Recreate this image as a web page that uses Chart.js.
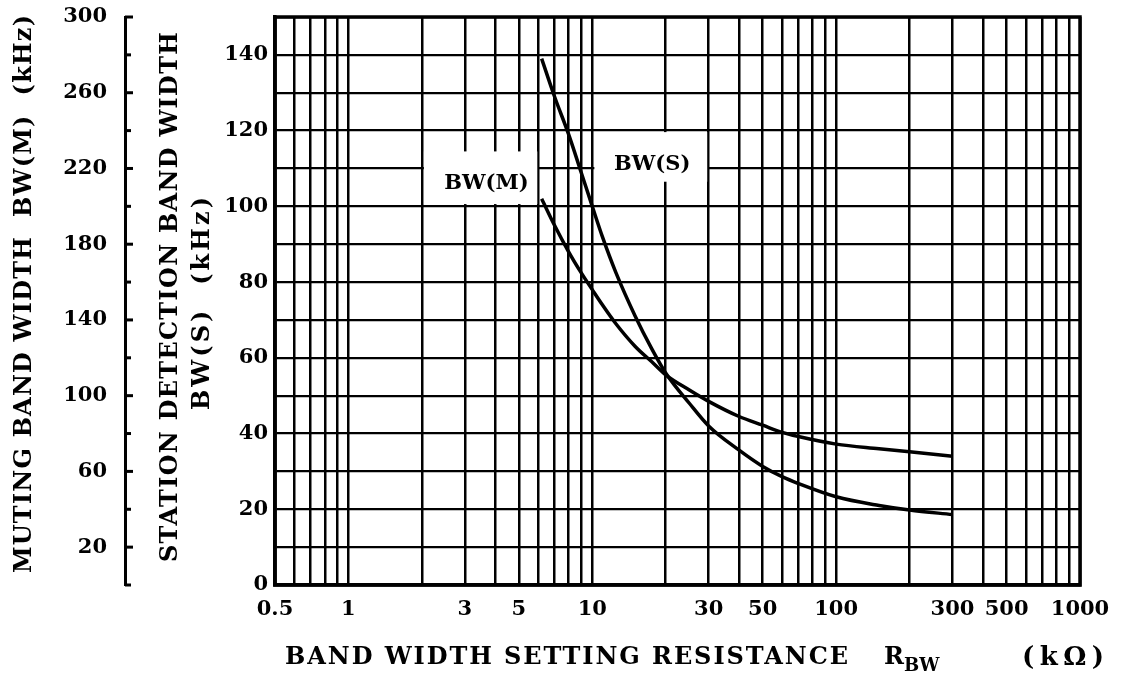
<!DOCTYPE html>
<html>
<head>
<meta charset="utf-8">
<script src="https://cdn.jsdelivr.net/npm/chart.js@4.4.1/dist/chart.umd.min.js"></script>
<style>
  html, body { margin: 0; padding: 0; background: #fff; }
  #wrap { width: 1124px; height: 681px; }
</style>
</head>
<body>
<div id="wrap"><canvas id="c" width="1124" height="681"></canvas></div>
<script>
// band width setting resistance R_BW (kOhm)
const rBW = [6.2, 7, 8, 9, 10, 11, 12.5, 15, 17.5, 20, 25, 30, 40, 50, 60, 70, 100, 150, 200, 300];
// station detection band width BW(S) (kHz), inner axis
const bwS = [139, 129, 119, 109, 100, 92, 82.5, 71, 62.5, 56, 48, 42, 35.6, 31.3, 28.6, 26.8, 23.3, 21, 19.8, 18.6];
// muting band width BW(M) (kHz), outer axis
const bwM = [204, 190, 176, 165, 156, 148, 138, 126, 118, 111, 103, 97, 89, 84.4, 80.6, 78.4, 74.4, 72, 70.4, 68];

const xGrid = [0.5, 0.6, 0.7, 0.8, 0.9, 1, 2, 3, 4, 5, 6, 7, 8, 9, 10, 20, 30, 40, 50, 60, 70, 80, 90,
               100, 200, 300, 400, 500, 600, 700, 800, 900, 1000];
const xLabels = [0.5, 1, 3, 5, 10, 30, 50, 100, 300, 500, 1000];

const FONT = "'DejaVu Serif', serif";

// curve name tags with the grid blanked behind them (in data units)
const tags = [
  { text: 'BW(M)', tx: 3.68, ty: 106, x0: 2.04, x1: 5.95, y0: 100.6, y1: 114.5 },
  { text: 'BW(S)', tx: 17.6, ty: 111, x0: 10.2, x1: 29.6, y0: 106.5, y1: 119.6 }
];

function fitText(ctx, text, len) {
  ctx.letterSpacing = '0px';
  const w = ctx.measureText(text).width;
  const ls = (len - w) / (text.length - 1);
  ctx.letterSpacing = ls + 'px';
  ctx.fillText(text, 0, 0);
  ctx.letterSpacing = '0px';
}

const deco = {
  id: 'deco',
  beforeDatasetsDraw(chart) {
    const { ctx, scales: { x, y } } = chart;
    ctx.save();
    tags.forEach(t => {
      const l = x.getPixelForValue(t.x0), r = x.getPixelForValue(t.x1);
      const top = y.getPixelForValue(t.y1), bot = y.getPixelForValue(t.y0);
      ctx.fillStyle = '#fff';
      ctx.fillRect(l, top, r - l, bot - top);
      ctx.fillStyle = '#000';
      ctx.font = 'bold 21px ' + FONT;
      ctx.textAlign = 'center';
      ctx.textBaseline = 'middle';
      ctx.fillText(t.text, x.getPixelForValue(t.tx), y.getPixelForValue(t.ty));
    });
    ctx.restore();
  },
  afterDraw(chart) {
    const { ctx, chartArea: a, scales: { y2 } } = chart;
    ctx.save();
    // frame
    ctx.strokeStyle = '#000';
    ctx.lineWidth = 3.5;
    ctx.strokeRect(a.left, a.top, a.right - a.left, a.bottom - a.top);
    // outer axis ticks pointing right
    ctx.lineWidth = 3;
    y2.ticks.forEach(t => {
      const py = y2.getPixelForValue(t.value);
      const len = (t.value % 40 === 20) ? 8 : 6;
      ctx.beginPath();
      ctx.moveTo(y2.right, py);
      ctx.lineTo(y2.right + len, py);
      ctx.stroke();
    });
    // titles
    ctx.fillStyle = '#000';
    ctx.textBaseline = 'middle';
    ctx.textAlign = 'left';
    const ty = a.bottom + 73;
    ctx.font = 'bold 24px ' + FONT;
    ctx.save(); ctx.translate(285, ty); fitText(ctx, 'BAND WIDTH SETTING RESISTANCE', 563); ctx.restore();
    ctx.fillText('R', 884, ty);
    ctx.font = 'bold 18px ' + FONT;
    ctx.fillText('BW', 904, ty + 8);
    ctx.font = 'bold 26px ' + FONT;
    ctx.save(); ctx.translate(1022, ty); fitText(ctx, '(kΩ)', 82); ctx.restore();

    ctx.font = 'bold 24px ' + FONT;
    const vt = [
      { text: 'MUTING BAND WIDTH  BW(M)  (kHz)', cx: 25, y0: 573, len: 558 },
      { text: 'STATION DETECTION BAND WIDTH', cx: 171, y0: 562, len: 530 },
      { text: 'BW(S)  (kHz)', cx: 203, y0: 410, len: 213 }
    ];
    vt.forEach(t => {
      ctx.save();
      ctx.translate(t.cx, t.y0);
      ctx.rotate(-Math.PI / 2);
      fitText(ctx, t.text, t.len);
      ctx.restore();
    });
    ctx.restore();
  }
};

Chart.defaults.font.family = FONT;
Chart.defaults.font.weight = 'bold';
Chart.defaults.color = '#000';

new Chart(document.getElementById('c'), {
  type: 'line',
  data: {
    datasets: [
      {
        label: 'BW(S)',
        data: rBW.map((r, i) => ({ x: r, y: bwS[i] })),
        yAxisID: 'y',
        borderColor: '#000',
        borderWidth: 3.5,
        pointRadius: 0,
        cubicInterpolationMode: 'monotone',
        fill: false
      },
      {
        label: 'BW(M)',
        data: rBW.map((r, i) => ({ x: r, y: bwM[i] })),
        yAxisID: 'y2',
        borderColor: '#000',
        borderWidth: 3.5,
        pointRadius: 0,
        cubicInterpolationMode: 'monotone',
        fill: false
      }
    ]
  },
  options: {
    responsive: false,
    animation: false,
    events: [],
    layout: { padding: { top: 17, right: 44, left: 0, bottom: 0 } },
    plugins: { legend: { display: false }, tooltip: { enabled: false } },
    scales: {
      x: {
        type: 'logarithmic',
        min: 0.5,
        max: 1000,
        afterBuildTicks: s => { s.ticks = xGrid.map(v => ({ value: v })); },
        afterFit: s => { s.height = 96; s.paddingLeft = 0; s.paddingRight = 0; },
        grid: { color: '#000', lineWidth: 2.5, drawTicks: false },
        border: { color: '#000', width: 3.5 },
        ticks: {
          autoSkip: false,
          maxRotation: 0,
          padding: 12,
          font: { size: 21 },
          callback: v => xLabels.includes(v) ? String(v) : ''
        }
      },
      y: {
        position: 'left',
        weight: 0,
        min: 0,
        max: 150,
        afterFit: s => { s.width = 150; s.paddingTop = 0; s.paddingBottom = 0; },
        grid: { color: '#000', lineWidth: 2.2, drawTicks: false },
        border: { color: '#000', width: 3.5 },
        ticks: {
          stepSize: 10,
          padding: 7,
          font: { size: 21 },
          callback: v => v % 20 === 0 ? String(v) : ''
        }
      },
      y2: {
        position: 'left',
        weight: 1,
        min: 0,
        max: 300,
        afterFit: s => { s.width = 125; s.paddingTop = 0; s.paddingBottom = 0; },
        grid: { display: false },
        border: { color: '#000', width: 3 },
        ticks: {
          stepSize: 20,
          padding: 10,
          font: { size: 21 },
          callback: v => v % 40 === 20 ? String(v) : ''
        }
      }
    }
  },
  plugins: [deco]
});
</script>
</body>
</html>
